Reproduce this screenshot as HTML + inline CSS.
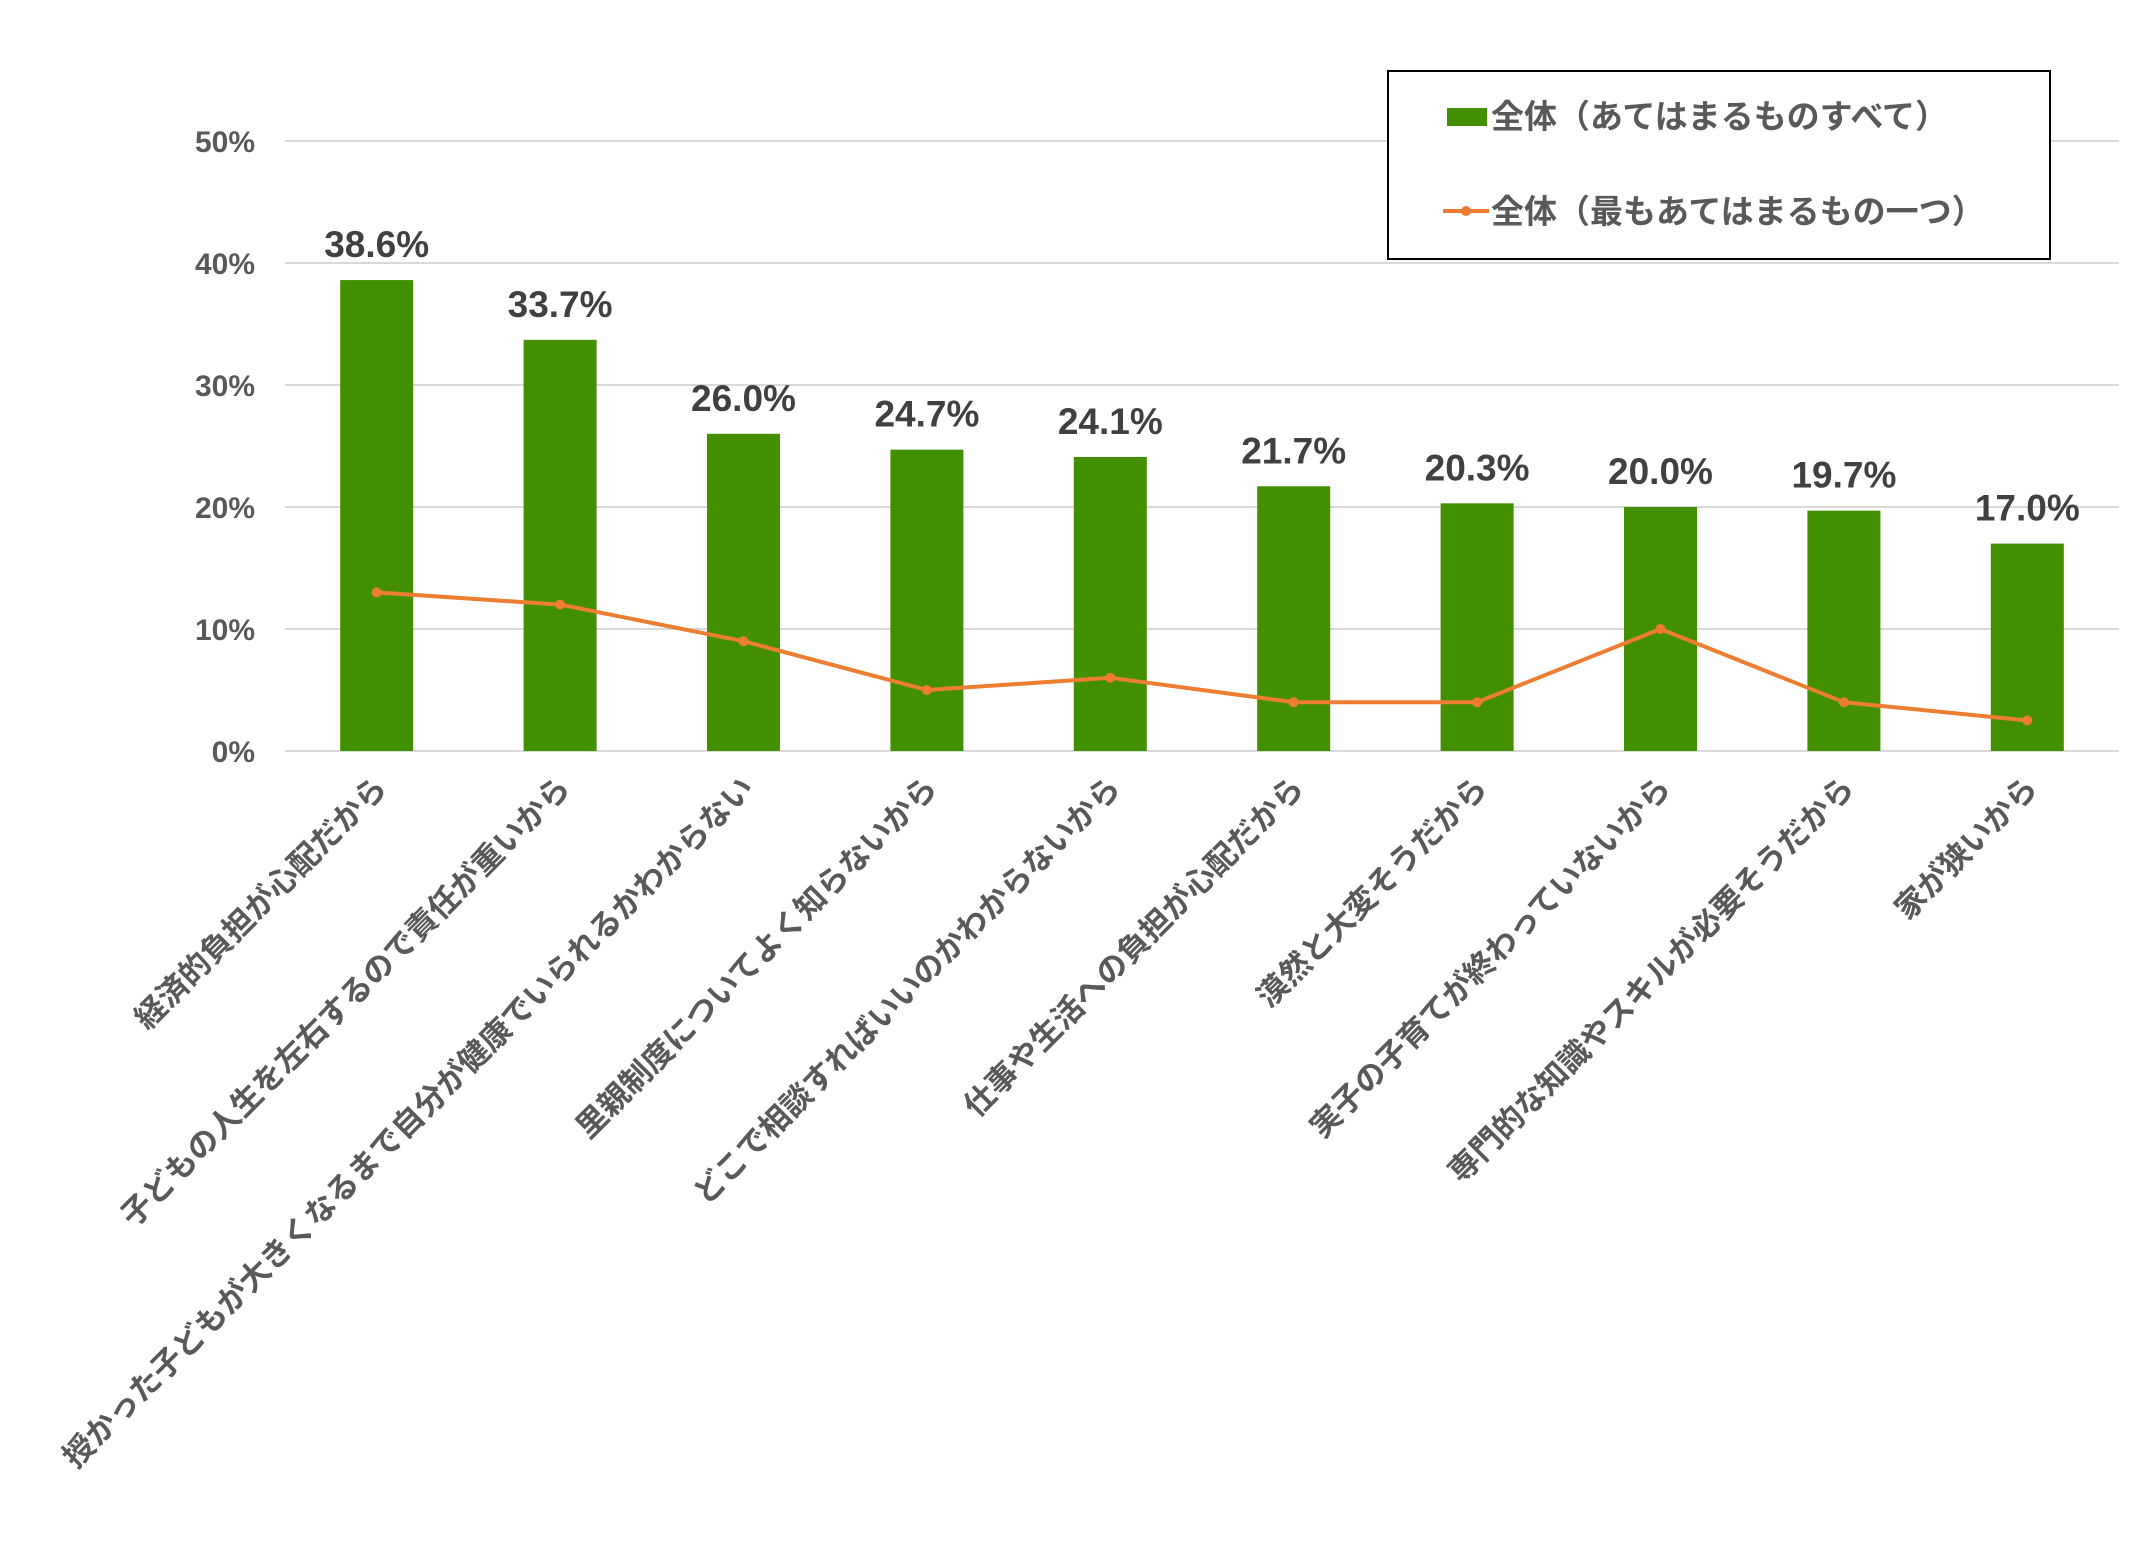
<!DOCTYPE html>
<html><head><meta charset="utf-8"><style>
html,body{margin:0;padding:0;background:#fff;}
svg{display:block;font-family:"Liberation Sans","Noto Sans CJK JP",sans-serif;}
</style></head><body>
<svg id="chart" width="2138" height="1548" viewBox="0 0 2138 1548" xmlns="http://www.w3.org/2000/svg">
<g id="grid"></g>
<g id="yaxis"></g>
<g id="bars"></g>
<g id="line"></g>
<g id="labels"></g>
<g id="xaxis"></g>
<g>
  <rect x="1388" y="71" width="662" height="188" fill="#fff" stroke="#000" stroke-width="2"/>
  <rect x="1447" y="108" width="40" height="18" fill="#428F00"/>
  <text x="1491" y="128" font-size="33" font-weight="bold" fill="#595959">全体（あてはまるものすべて）</text>
  <line x1="1443" y1="211" x2="1489" y2="211" stroke="#ED7D31" stroke-width="4"/>
  <circle cx="1466" cy="211" r="5" fill="#ED7D31"/>
  <text x="1491" y="223" font-size="33" font-weight="bold" fill="#595959">全体（最もあてはまるもの一つ）</text>
</g>
</svg>
<script>
const categories = ["経済的負担が心配だから","子どもの人生を左右するので責任が重いから","授かった子どもが大きくなるまで自分が健康でいられるかわからない","里親制度についてよく知らないから","どこで相談すればいいのかわからないから","仕事や生活への負担が心配だから","漠然と大変そうだから","実子の子育てが終わっていないから","専門的な知識やスキルが必要そうだから","家が狭いから"];
const allValues = [38.6,33.7,26.0,24.7,24.1,21.7,20.3,20.0,19.7,17.0];
const mostValues = [13,12,9,5,6,4,4,10,4,2.5];
const yTicks = [0,10,20,30,40,50];
const yTickLabels = ["0%","10%","20%","30%","40%","50%"];

const NS="http://www.w3.org/2000/svg";
const X0=285,X1=2119,Y0=751,Y50=141;
const band=(X1-X0)/categories.length;
function xC(i){return X0+band*(i+0.5);}
function yS(v){return Y0-(Y0-Y50)*v/50;}
function mk(tag,attrs,parent){const e=document.createElementNS(NS,tag);for(const k in attrs)e.setAttribute(k,attrs[k]);parent.appendChild(e);return e;}
const grid=document.getElementById('grid'),yaxis=document.getElementById('yaxis'),bars=document.getElementById('bars'),line=document.getElementById('line'),labels=document.getElementById('labels'),xaxis=document.getElementById('xaxis');
yTicks.forEach((t,i)=>{
  const l=mk('line',{x1:X0,x2:X1,y1:yS(t),y2:yS(t),stroke:'#D9D9D9','stroke-width':2},grid);
  
  
  const tx=mk('text',{x:255,y:yS(t)+11,'text-anchor':'end','font-size':30,'font-weight':'bold',fill:'#595959'},yaxis);
  tx.textContent=yTickLabels[i];
  
  
});
const bw=73;
allValues.forEach((v,i)=>{
  const r=mk('rect',{x:xC(i)-bw/2,y:yS(v),width:bw,height:Y0-yS(v),fill:'#428F00'},bars);
  
  
  const t=mk('text',{x:xC(i),y:yS(v)-23,'text-anchor':'middle','font-size':37,'font-weight':'bold',fill:'#404040'},labels);
  t.textContent=v.toFixed(1)+'%';
  
  
});
const pts=mostValues.map((v,i)=>xC(i)+','+yS(v)).join(' ');
const pl=mk('polyline',{points:pts,fill:'none',stroke:'#ED7D31','stroke-width':4,'stroke-linejoin':'round'},line);


mostValues.forEach((v,i)=>{
  const c=mk('circle',{cx:xC(i),cy:yS(v),r:5,fill:'#ED7D31'},line);
  
  
});
categories.forEach((c,i)=>{
  const x=xC(i)+12,y=790;
  const t=mk('text',{x:x,y:y,'text-anchor':'end','font-size':31,'font-weight':'bold',fill:'#595959',transform:'rotate(-45 '+x+' '+y+')'},xaxis);
  t.textContent=c;
  
  
});
</script>
</body></html>
